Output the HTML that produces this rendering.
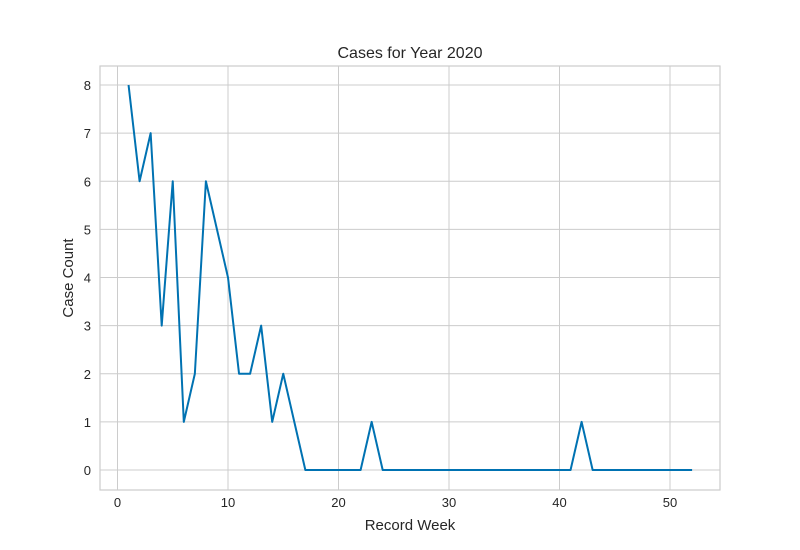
<!DOCTYPE html>
<html><head><meta charset="utf-8"><style>
body{margin:0;background:#fff}
svg{display:block;font-family:"Liberation Sans","DejaVu Sans",sans-serif}
</style></head><body>
<svg id="chart" width="800" height="550"></svg>
<script>
const weeks = Array.from({length:52},(_,i)=>i+1);
const counts = [8,6,7,3,6,1,2,6,5,4,2,2,3,1,2,1,0,0,0,0,0,0,1,0,0,0,0,0,0,0,0,0,0,0,0,0,0,0,0,0,0,1,0,0,0,0,0,0,0,0,0,0];
const xTicks = [0,10,20,30,40,50];
const yTicks = [0,1,2,3,4,5,6,7,8];

const NS='http://www.w3.org/2000/svg';
const svg=document.getElementById('chart');
const L=100,R=720,T=66,B=490;
const x=v=>117.5+v*11.05;
const y=v=>470-v*48.125;
function el(t,a,txt){const e=document.createElementNS(NS,t);for(const k in a)e.setAttribute(k,a[k]);if(txt!==undefined)e.textContent=txt;svg.appendChild(e);return e;}

xTicks.forEach(v=>{
  const g=el('line',{x1:x(v),x2:x(v),y1:T,y2:B,stroke:'#cccccc','stroke-width':1});
  
  
  const t=el('text',{x:x(v),y:B+17,'text-anchor':'middle','font-size':13,fill:'#262626'},String(v));
  
  
});
yTicks.forEach(v=>{
  const g=el('line',{x1:L,x2:R,y1:y(v),y2:y(v),stroke:'#cccccc','stroke-width':1});
  
  
  const t=el('text',{x:L-9,y:y(v)+5,'text-anchor':'end','font-size':13,fill:'#262626'},String(v));
  
  
});
const frame=el('rect',{x:L,y:T,width:R-L,height:B-T,fill:'none',stroke:'#cccccc','stroke-width':1.2});



const pts=weeks.map((w,i)=>x(w)+','+y(counts[i])).join(' ');
const line=el('polyline',{points:pts,fill:'none',stroke:'#0072b2','stroke-width':2,'stroke-linejoin':'round'});



const title=el('text',{x:410,y:58,'text-anchor':'middle','font-size':16,fill:'#262626'},'Cases for Year 2020');


const xl=el('text',{x:410,y:530,'text-anchor':'middle','font-size':15,fill:'#262626'},'Record Week');


const yl=el('text',{x:73,y:278,'text-anchor':'middle','font-size':15,fill:'#262626',transform:'rotate(-90 73 278)'},'Case Count');


</script>
</body></html>
